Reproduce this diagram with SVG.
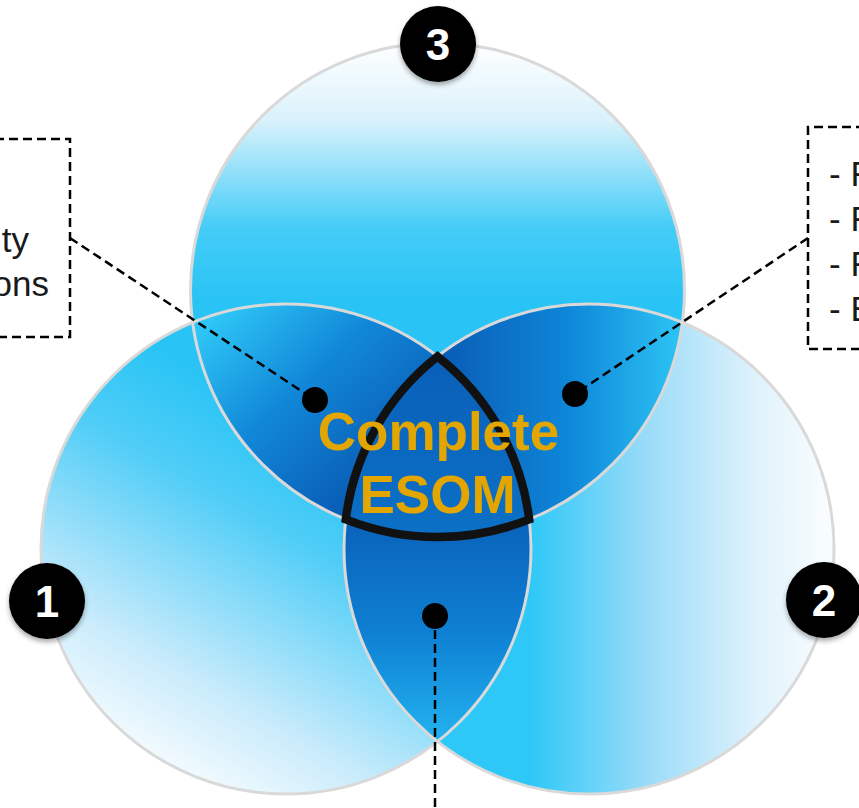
<svg xmlns="http://www.w3.org/2000/svg" width="859" height="808" viewBox="0 0 859 808">
<defs>
<style>
.ring{fill:none;stroke:#d9d9d9;stroke-width:3}
.dash{fill:none;stroke:#000;stroke-width:2.5;stroke-dasharray:9 5}
.dot{fill:#000}
.badge{fill:#000;filter:url(#sh)}
.num{font-family:"Liberation Sans",Arial,sans-serif;font-weight:bold;font-size:44px;fill:#fff;text-anchor:middle}
.lbl{font-family:"Liberation Sans",Arial,sans-serif;font-size:35px;fill:#1a1a1a}
.core{font-family:"Liberation Sans",Arial,sans-serif;font-weight:bold;font-size:53px;fill:#e3a600;text-anchor:middle}
</style>
<filter id="sh" x="-30%" y="-30%" width="160%" height="170%">
<feDropShadow dx="0" dy="3" stdDeviation="2.5" flood-color="#000" flood-opacity="0.35"/>
</filter>
<clipPath id="k1"><circle cx="286" cy="549" r="245"/></clipPath>
<clipPath id="k2"><circle cx="589" cy="549" r="245"/></clipPath>
<clipPath id="k3"><circle cx="437.5" cy="290" r="247"/></clipPath>
<linearGradient id="g3" gradientUnits="userSpaceOnUse" x1="0" y1="43" x2="0" y2="300">
<stop offset="0" stop-color="#ffffff"/>
<stop offset="0.3" stop-color="#daf2fc"/>
<stop offset="0.72" stop-color="#44ccf7"/>
<stop offset="1" stop-color="#29c4f5"/>
</linearGradient>
<linearGradient id="g1" gradientUnits="userSpaceOnUse" x1="315" y1="440" x2="125" y2="770">
<stop offset="0" stop-color="#29c4f5"/>
<stop offset="0.25" stop-color="#4fcdf7"/>
<stop offset="0.7" stop-color="#c8ebfb"/>
<stop offset="1" stop-color="#ffffff"/>
</linearGradient>
<linearGradient id="g2" gradientUnits="userSpaceOnUse" x1="530" y1="0" x2="830" y2="0">
<stop offset="0" stop-color="#2ec8f8"/>
<stop offset="0.4" stop-color="#9ddcf9"/>
<stop offset="0.75" stop-color="#dff2fc"/>
<stop offset="1" stop-color="#fafdff"/>
</linearGradient>
<linearGradient id="g31" gradientUnits="userSpaceOnUse" x1="200" y1="330" x2="350" y2="490">
<stop offset="0" stop-color="#2ec6f6"/>
<stop offset="0.5" stop-color="#1187d8"/>
<stop offset="1" stop-color="#0a60b8"/>
</linearGradient>
<linearGradient id="g32" gradientUnits="userSpaceOnUse" x1="450" y1="0" x2="685" y2="0">
<stop offset="0" stop-color="#0a5fb8"/>
<stop offset="0.5" stop-color="#0e86d8"/>
<stop offset="1" stop-color="#2ec6f6"/>
</linearGradient>
<linearGradient id="g12" gradientUnits="userSpaceOnUse" x1="0" y1="520" x2="0" y2="740">
<stop offset="0" stop-color="#0a62ba"/>
<stop offset="0.5" stop-color="#0e7fd2"/>
<stop offset="1" stop-color="#22b2f0"/>
</linearGradient>
<linearGradient id="g123" gradientUnits="userSpaceOnUse" x1="0" y1="356" x2="0" y2="535">
<stop offset="0" stop-color="#0a5fb8"/>
<stop offset="1" stop-color="#0b70c6"/>
</linearGradient>
</defs>
<rect width="859" height="808" fill="#fff"/>

<g id="circle-1"><circle cx="286" cy="549" r="245" fill="url(#g1)"/></g>
<g id="circle-2"><circle cx="589" cy="549" r="245" fill="url(#g2)"/></g>
<g id="circle-3"><circle cx="437.5" cy="290" r="247" fill="url(#g3)"/></g>

<g id="overlap-1-3" clip-path="url(#k3)"><circle cx="286" cy="549" r="245" fill="url(#g31)"/></g>
<g id="overlap-2-3" clip-path="url(#k3)"><circle cx="589" cy="549" r="245" fill="url(#g32)"/></g>
<g id="overlap-1-2" clip-path="url(#k1)"><circle cx="589" cy="549" r="245" fill="url(#g12)"/></g>

<g id="rings">
<circle class="ring" cx="286" cy="549" r="245"/>
<circle class="ring" cx="589" cy="549" r="245"/>
<circle class="ring" cx="437.5" cy="290" r="247"/>
</g>

<g id="complete-esom">
<path d="M437.5 356.5 A245 245 0 0 1 529.2 519.4 A247 247 0 0 1 345.8 519.4 A245 245 0 0 1 437.5 356.5 Z" fill="url(#g123)" stroke="#111" stroke-width="8.5" stroke-linejoin="miter"/>
<text class="core" x="438.5" y="450">Complete</text>
<text class="core" x="437.5" y="513">ESOM</text>
</g>

<g id="connectors">
<path class="dash" d="M70 238 L315 400"/>
<path class="dash" d="M808 238 L575 394"/>
<path class="dash" d="M435 616 L435 808"/>
</g>

<g id="dots">
<circle class="dot" cx="315" cy="400" r="13"/>
<circle class="dot" cx="575" cy="394" r="13"/>
<circle class="dot" cx="435" cy="616" r="13"/>
</g>

<g id="callout-left">
<path class="dash" d="M-5 139 H70 V337 H-5"/>
<text class="lbl" x="29" y="252" text-anchor="end">ty</text>
<text class="lbl" x="49" y="296" text-anchor="end">ons</text>
</g>

<g id="callout-right">
<path class="dash" d="M865 127 H808 V349 H865"/>
<text class="lbl" x="829" y="186">- F</text>
<text class="lbl" x="829" y="231">- F</text>
<text class="lbl" x="829" y="276">- F</text>
<text class="lbl" x="829" y="321">- E</text>
</g>

<g id="badge-1"><circle class="badge" cx="47" cy="601" r="38"/><text class="num" x="47" y="617">1</text></g>
<g id="badge-2"><circle class="badge" cx="824" cy="600" r="38"/><text class="num" x="824" y="616">2</text></g>
<g id="badge-3"><circle class="badge" cx="438" cy="44" r="38"/><text class="num" x="438" y="60">3</text></g>
</svg>
